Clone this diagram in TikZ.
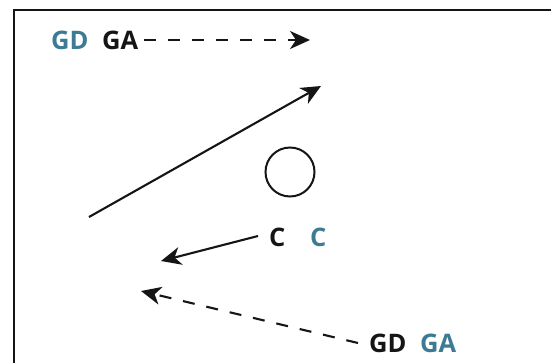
\documentclass[tikz,border=0pt]{standalone}
\usepackage{fontspec}
\setmainfont{Open Sans}
\usetikzlibrary{arrows.meta}
\definecolor{teal1}{HTML}{3D7A93}
\definecolor{ink}{HTML}{151515}
\tikzset{
  lbl/.style={inner sep=0pt, font=\bfseries\fontsize{25.5}{29}\selectfont, text=ink},
  tl/.style={lbl, text=teal1},
  arr/.style={draw=ink, line width=2.1pt, -{Stealth[length=20pt,width=18pt,inset=6pt]}},
  dsh/.style={arr, dash pattern=on 12pt off 12pt},
}
\begin{document}
\begin{tikzpicture}[x=1pt,y=-1pt]
\useasboundingbox (0,0) rectangle (551,362);
\fill[white] (0,0) rectangle (551,362);
\draw[ink, line width=2pt] (14,380) -- (14,10) -- (570,10);
% top
\node[tl, anchor=west] (gd1) at (51,40) {GD};
\node[lbl, anchor=west] (ga1) at (102,40) {GA};
\coordinate (t1) at (310,40);
\draw[dsh] ([xshift=6pt]ga1.east) -- (t1);
% solid arrow
\coordinate (s1) at (89,217);
\coordinate (s2) at (321,86);
\draw[arr] (s1) -- (s2);
% circle
\node[draw=ink, line width=2pt, circle, minimum size=49pt, inner sep=0pt] (circ) at (290,172) {};
% C labels
\node[lbl, anchor=west] (c1) at (269,237) {C};
\node[tl, anchor=west] (c2) at (310,237) {C};
\coordinate (ct) at (161,261);
\draw[arr] ([xshift=-11pt,yshift=1pt]c1.west) -- (ct);
% bottom
\node[lbl, anchor=west] (gd2) at (369,343) {GD};
\node[tl, anchor=west] (ga2) at (420,343) {GA};
\coordinate (bt) at (141,291);
\draw[dsh] ([xshift=-11pt]gd2.west) -- (bt);
\end{tikzpicture}
\end{document}
